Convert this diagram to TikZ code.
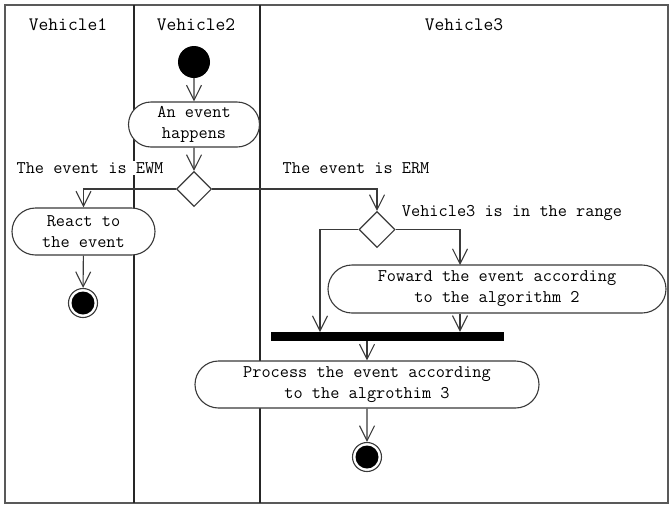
\documentclass[tikz,border=0pt]{standalone}
\usepackage{fontspec}
\usetikzlibrary{arrows.meta,shapes.misc,shapes.geometric}
\definecolor{ln}{HTML}{3A3A3A}
\tikzset{
  flow/.style={draw=ln, line width=1.1pt, -{Straight Barb[length=15pt,width=15pt,line width=1.1pt]}},
  act/.style={rounded rectangle, draw=ln, line width=1.1pt, fill=white, align=center, inner sep=0pt, font=\ttfamily\fontsize{17.8}{21}\selectfont},
  dec/.style={diamond, draw=ln, line width=1.1pt, fill=white, inner sep=0pt, minimum width=35pt, minimum height=35pt},
  lbl/.style={fill=white, inner sep=1pt, font=\ttfamily\fontsize{17.8}{21}\selectfont},
  hdr/.style={font=\ttfamily\fontsize{19}{22}\selectfont},
  lane/.style={draw=black!85, line width=1.5pt},
}
\begin{document}
\begin{tikzpicture}[x=1pt,y=-1pt]
\useasboundingbox (0,0) rectangle (670,504);
\fill[white] (0,0) rectangle (670,504);
% frame and lanes
\draw[draw=black!65, line width=1.8pt] (5,5) rectangle (668,503);
\draw[lane] (134,5) -- (134,503);
\draw[lane] (260,5) -- (260,503);
\node[hdr] (h1) at (68,25) {Vehicle1};
\node[hdr] (h2) at (196,25) {Vehicle2};
\node[hdr] (h3) at (464,25) {Vehicle3};
% nodes
\node[circle, fill=black, minimum size=32pt, inner sep=0pt] (start) at (194,62) {};
\node[act, minimum width=131pt, minimum height=45pt] (ev) at (194,124.5) {An event\\happens};
\node[dec] (d1) at (194,189) {};
\node[act, minimum width=143pt, minimum height=47pt] (react) at (83.5,231.5) {React to\\the event};
\node[circle, draw=ln, line width=1.1pt, fill=white, minimum size=29pt, inner sep=0pt] (end1) at (83,303) {};
\fill[black] (end1.center) circle (11.5pt);
\node[dec, minimum width=36pt, minimum height=36pt] (d2) at (377,229.5) {};
\node[act, minimum width=338pt, minimum height=48pt] (fwd) at (497,289) {Foward the event according\\to the algorithm 2};
\node[rectangle, fill=black, minimum width=233pt, minimum height=9pt, inner sep=0pt] (bar) at (387.5,336.5) {};
\node[act, minimum width=344pt, minimum height=47pt] (proc) at (367,384.5) {Process the event according\\to the algrothim 3};
\node[circle, draw=ln, line width=1.1pt, fill=white, minimum size=29pt, inner sep=0pt] (end2) at (367,457) {};
\fill[black] (end2.center) circle (11.5pt);
% labels
\node[lbl] (l1) at (90,168) {The event is EWM};
\node[lbl] (l2) at (356,168) {The event is ERM};
\node[lbl] (l3) at (512,213) {Vehicle3 is in the range};
% helper coordinates
\coordinate (b1) at (320,332);
\coordinate (f1) at (460,265);
% connectors
\draw[flow] (start) -- (ev);
\draw[flow] (ev) -- (d1);
\draw[flow] (d1.west) -| (react.north);
\draw[flow] (react) -- (end1);
\draw[flow] (d1.east) -| (d2.north);
\draw[flow] (d2.west) -| (b1);
\draw[flow] (d2.east) -| (f1);
\draw[flow] (f1 |- fwd.south) -- (f1 |- bar.north);
\draw[flow] (bar.south -| proc.north) -- (proc.north);
\draw[flow] (proc) -- (end2);
\end{tikzpicture}
\end{document}
